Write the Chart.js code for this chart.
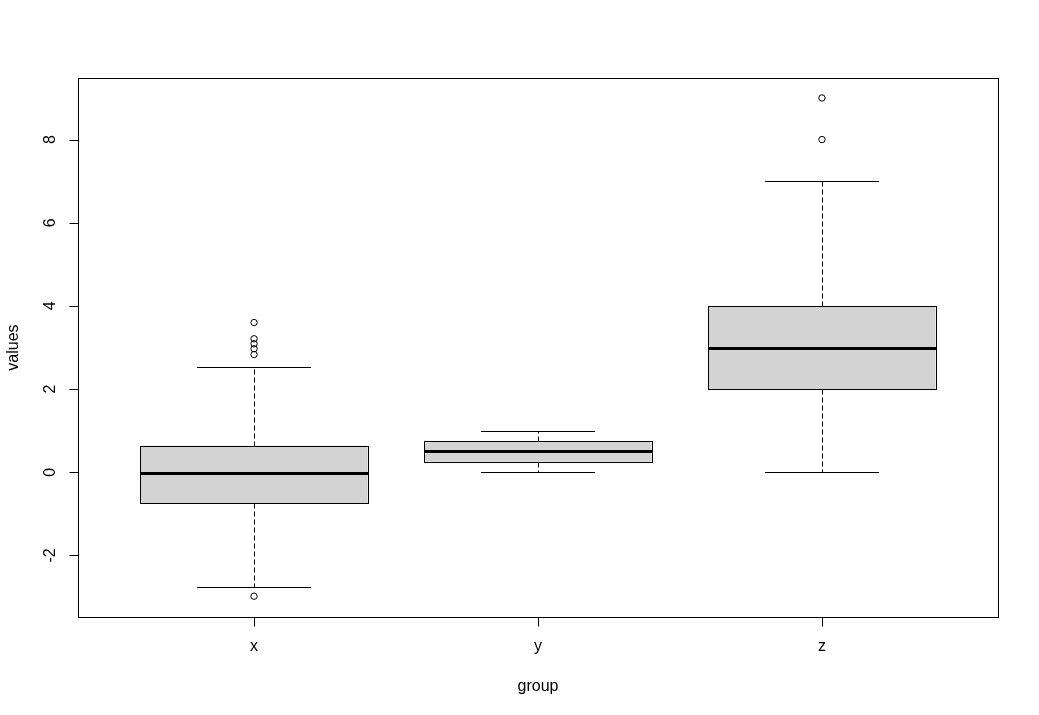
<!DOCTYPE html>
<html>
<head>
<meta charset="utf-8">
<script src="https://cdn.jsdelivr.net/npm/chart.js@4/dist/chart.umd.min.js"></script>
<style>
html,body{margin:0;padding:0;background:#fff;}
#wrap{width:1039px;height:715px;}
</style>
</head>
<body>
<div id="wrap"><canvas id="c" width="1039" height="715"></canvas></div>
<script>
// ---- data ----
const categories   = ['x', 'y', 'z'];
const lowerWhisker = [-2.76, 0.00, 0.00];
const lowerQuart   = [-0.75, 0.25, 2.00];
const medians      = [-0.01, 0.50, 3.00];
const upperQuart   = [ 0.64, 0.75, 4.00];
const upperWhisker = [ 2.54, 1.00, 7.00];
const outliersX    = [3.60, 3.21, 3.09, 2.97, 2.83, -2.98];
const outliersY    = [];
const outliersZ    = [9.00, 8.00];
const yTickValues  = [-2, 0, 2, 4, 6, 8];
const xAxisTitle   = 'group';
const yAxisTitle   = 'values';

const outlierGroups = [outliersX, outliersY, outliersZ];
const xPositions = categories.map((c, i) => i + 1);
const yLo = -3.48, yHi = 9.48;
const xLo = 0.38, xHi = 3.62;

const boxData = categories.map((c, i) => ({x: xPositions[i], y: [lowerQuart[i], upperQuart[i]]}));
const outlierData = [];
outlierGroups.forEach((arr, i) => arr.forEach(v => outlierData.push({x: xPositions[i], y: v})));

const FONT = '16px "Liberation Sans", Arial, sans-serif';

const boxPlugin = {
  id: 'rbox',
  afterDatasetsDraw(chart) {
    const ctx = chart.ctx;
    const xs = chart.scales.x, ys = chart.scales.y;
    const meta = chart.getDatasetMeta(0);
    ctx.save();
    ctx.strokeStyle = '#000';
    categories.forEach((c, i) => {
      const cx = Math.round(xs.getPixelForValue(xPositions[i])) + 0.5;
      const capL = Math.round(xs.getPixelForValue(xPositions[i] - 0.2));
      const capR = Math.round(xs.getPixelForValue(xPositions[i] + 0.2));
      const yq1 = Math.round(ys.getPixelForValue(lowerQuart[i])) + 0.5;
      const yq3 = Math.round(ys.getPixelForValue(upperQuart[i])) + 0.5;
      const ylw = Math.round(ys.getPixelForValue(lowerWhisker[i])) + 0.5;
      const yuw = Math.round(ys.getPixelForValue(upperWhisker[i])) + 0.5;
      // dashed whiskers
      ctx.lineWidth = 1;
      ctx.setLineDash([5, 3]);
      ctx.beginPath();
      ctx.moveTo(cx, yq3); ctx.lineTo(cx, yuw);
      ctx.moveTo(cx, yq1); ctx.lineTo(cx, ylw);
      ctx.stroke();
      ctx.setLineDash([]);
      // caps
      ctx.beginPath();
      ctx.moveTo(capL, yuw); ctx.lineTo(capR, yuw);
      ctx.moveTo(capL, ylw); ctx.lineTo(capR, ylw);
      ctx.stroke();
      // crisp box outline over the library bar
      const bar = meta.data[i];
      const bl = Math.round(bar.x - bar.width / 2) + 0.5;
      const br = Math.round(bar.x + bar.width / 2) + 0.5;
      ctx.strokeRect(bl, yq3, br - bl, yq1 - yq3);
      // median
      const ym = Math.round(ys.getPixelForValue(medians[i])) + 0.5;
      ctx.lineWidth = 3;
      ctx.beginPath();
      ctx.moveTo(bl, ym);
      ctx.lineTo(br, ym);
      ctx.stroke();
    });
    ctx.restore();
  },
  afterDraw(chart) {
    const ctx = chart.ctx;
    const a = chart.chartArea;
    const xs = chart.scales.x, ys = chart.scales.y;
    ctx.save();
    ctx.strokeStyle = '#000';
    ctx.lineWidth = 1;
    const L = Math.round(a.left) + 0.5, R = Math.round(a.right) + 0.5;
    const T = Math.round(a.top) + 0.5, B = Math.round(a.bottom) + 0.5;
    ctx.strokeRect(L, T, R - L, B - T);
    const tick = 9;
    ctx.fillStyle = '#000';
    ctx.font = FONT;
    // x ticks + labels
    ctx.beginPath();
    xPositions.forEach(v => {
      const px = Math.round(xs.getPixelForValue(v)) + 0.5;
      ctx.moveTo(px, B); ctx.lineTo(px, B + tick);
    });
    ctx.stroke();
    ctx.textAlign = 'center';
    ctx.textBaseline = 'middle';
    categories.forEach((c, i) => {
      ctx.fillText(c, xs.getPixelForValue(xPositions[i]), B + 29);
    });
    ctx.fillText(xAxisTitle, (a.left + a.right) / 2, B + 69);
    // y ticks + labels
    ctx.beginPath();
    yTickValues.forEach(v => {
      const py = Math.round(ys.getPixelForValue(v)) + 0.5;
      ctx.moveTo(L, py); ctx.lineTo(L - tick, py);
    });
    ctx.stroke();
    yTickValues.forEach(v => {
      const py = ys.getPixelForValue(v);
      ctx.save();
      ctx.translate(L - 28, py);
      ctx.rotate(-Math.PI / 2);
      ctx.fillText(String(v), 0, 0);
      ctx.restore();
    });
    ctx.save();
    ctx.translate(L - 65, (a.top + a.bottom) / 2);
    ctx.rotate(-Math.PI / 2);
    ctx.fillText(yAxisTitle, 0, 0);
    ctx.restore();
    ctx.restore();
  }
};

new Chart(document.getElementById('c'), {
  type: 'bar',
  data: {
    datasets: [
      {
        type: 'bar',
        data: boxData,
        backgroundColor: '#d3d3d3',
        borderColor: '#000',
        borderWidth: 0,
        borderSkipped: false,
        barPercentage: 0.8,
        categoryPercentage: 1.0
      },
      {
        type: 'scatter',
        data: outlierData,
        pointRadius: 3.2,
        pointBorderWidth: 1,
        pointBorderColor: '#000',
        pointBackgroundColor: 'rgba(255,255,255,0)',
        showLine: false
      }
    ]
  },
  options: {
    responsive: false,
    devicePixelRatio: 1,
    animation: false,
    layout: {padding: {left: 78, top: 78, right: 41, bottom: 98}},
    plugins: {legend: {display: false}, tooltip: {enabled: false}},
    scales: {
      x: {
        type: 'linear', min: xLo, max: xHi, display: false, offset: false,
        afterBuildTicks: s => { s.ticks = xPositions.map(v => ({value: v})); }
      },
      y: {
        type: 'linear', min: yLo, max: yHi, display: false,
        afterBuildTicks: s => { s.ticks = yTickValues.map(v => ({value: v})); }
      }
    }
  },
  plugins: [boxPlugin]
});
</script>
</body>
</html>
